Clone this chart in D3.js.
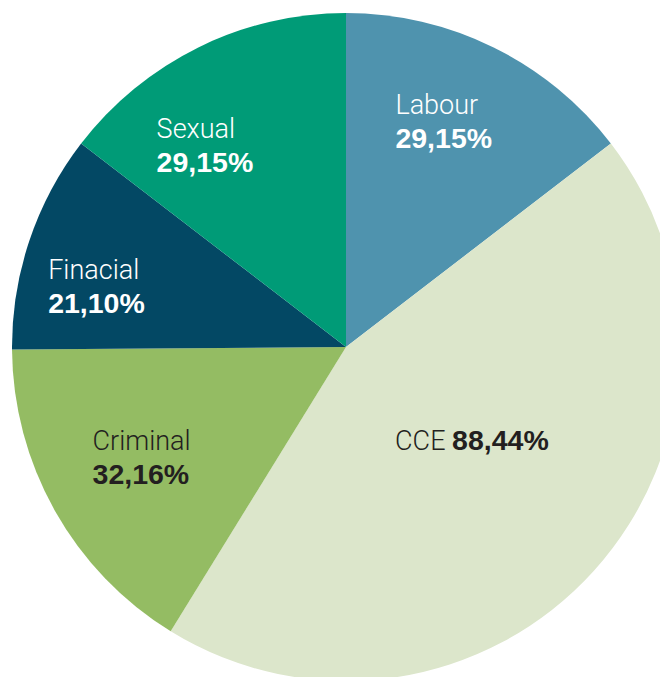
<!DOCTYPE html>
<html>
<head>
<meta charset="utf-8">
<script src="https://cdn.jsdelivr.net/npm/d3@7"></script>
<style>
  html, body { margin: 0; padding: 0; background: #ffffff; }
  svg { display: block; }
</style>
</head>
<body>
<script>
// slice data (the figures add up to 200)
const categories = ['Labour', 'CCE', 'Criminal', 'Finacial', 'Sexual']
const values = [29.15, 88.44, 32.16, 21.10, 29.15]
const valueLabels = ['29,15%', '88,44%', '32,16%', '21,10%', '29,15%']
const colours = ['#4f93ae', '#dce6cb', '#94bc63', '#034864', '#009b77']
const textColours = ['#ffffff', '#231f20', '#231f20', '#ffffff', '#ffffff']

const width = 660
const height = 677
const cx = 346
const cy = 347
const radius = 334

// where each label sits: angle nudge (deg), distance from centre, small pixel nudge
const labelPlace = {
    Labour: { da: -2, r: 243, dx: -2, dy: -4 },
    CCE: { da: -6, r: 157, dx: -1, dy: 1 },
    Criminal: { da: -1, r: 237, dx: 0, dy: -9 },
    Finacial: { da: -6.6, r: 253, dx: -2, dy: -8 },
    Sexual: { da: -9, r: 241, dx: -2, dy: -5 }
}

const slices = categories.map((c, i) => ({
    name: c,
    value: values[i],
    label: valueLabels[i],
    colour: colours[i],
    text: textColours[i]
}))

const svg = d3.select('body')
    .append('svg')
    .attr('width', width)
    .attr('height', height)

const g = svg.append('g')
    .attr('transform', `translate(${cx},${cy})`)

const pie = d3.pie()
    .sort(null)
    .value(d => d.value)

const arc = d3.arc()
    .innerRadius(0)
    .outerRadius(radius)

const arcs = pie(slices)

g.selectAll('path')
    .data(arcs)
    .join('path')
    .attr('d', arc)
    .attr('fill', d => d.data.colour)

const nameFont = 'Roboto, "Liberation Sans", sans-serif'
const valueFont = '"Liberation Sans", Arial, sans-serif'

const labels = g.selectAll('g.label')
    .data(arcs)
    .join('g')
    .attr('class', 'label')

labels.each(function (d) {
    const grp = d3.select(this)
    const place = labelPlace[d.data.name]
    const a = (d.startAngle + d.endAngle) / 2 + place.da * Math.PI / 180
    const px = Math.sin(a) * place.r + place.dx
    const py = -Math.cos(a) * place.r + place.dy

    const t = grp.append('text')
        .attr('fill', d.data.text)

    function nameSpan(){
        return t.append('tspan')
            .style('font-family', nameFont)
            .style('font-size', '27px')
            .style('font-weight', 300)
    }

    function valueSpan(){
        return t.append('tspan')
            .style('font-family', valueFont)
            .style('font-size', '28.5px')
            .style('font-weight', 700)
    }

    if (d.data.name === 'CCE') {
        nameSpan().text(d.data.name + ' ')
        valueSpan().text(d.data.label)
    } else {
        nameSpan().attr('x', 0).text(d.data.name)
        valueSpan().attr('x', 0).attr('dy', 34).text(d.data.label)
    }

    // centre the block on its spot, keeping the lines left aligned
    const bb = this.getBBox()
    grp.attr('transform', `translate(${px - bb.x - bb.width / 2},${py - bb.y - bb.height / 2})`)
})
</script>
</body>
</html>
